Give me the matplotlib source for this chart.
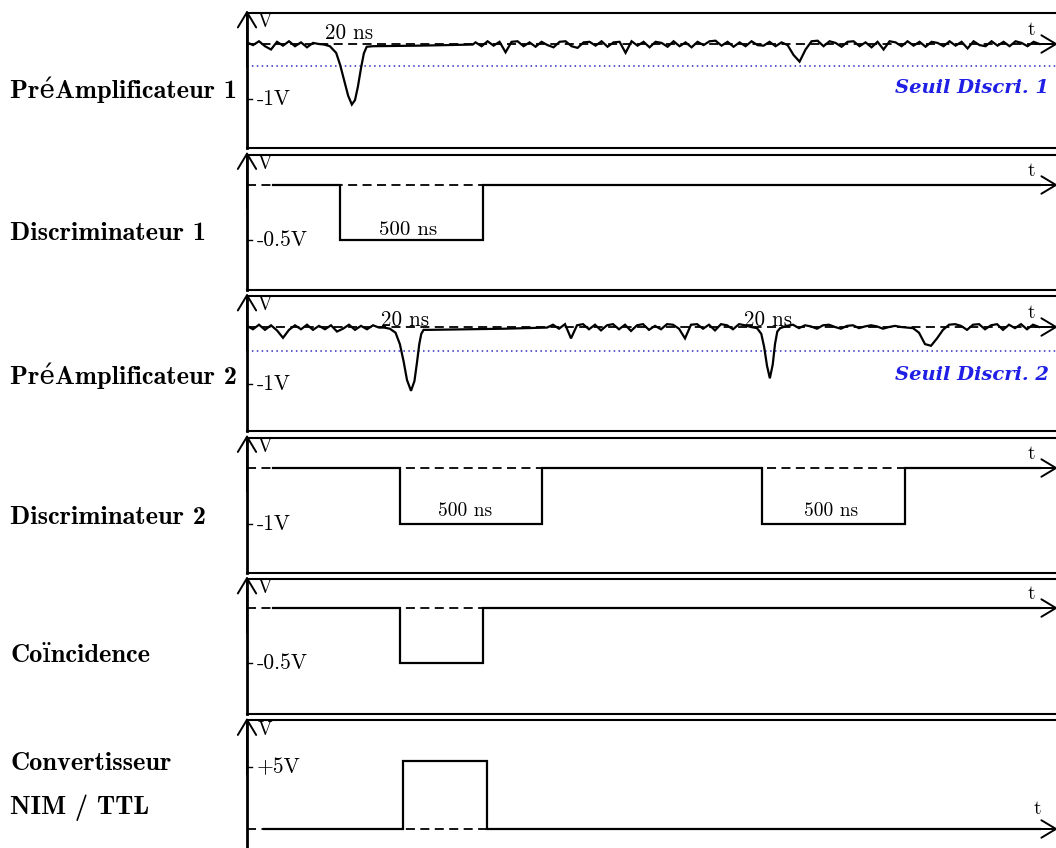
import numpy as np
import matplotlib
matplotlib.use("Agg")
import matplotlib.pyplot as plt

# time in ns, amplitude in V
STEP = 21.0  # sampling step of the noisy baselines

# --- PreAmplificateur 1 ---
pa1_noise_a_start = 0.0
pa1_noise_a = [0.03, -0.02, 0.05, -0.04, -0.1, 0.04, -0.03, 0.05, -0.04, 0.03, -0.06, 0.02, 0.0]
pa1_pulse_t = [270, 290, 312, 326, 340, 354, 367, 378, 388, 399, 409, 419, 440, 600, 790]
pa1_pulse_v = [-0.01, -0.04, -0.16, -0.38, -0.66, -0.94, -1.1, -1.02, -0.78, -0.44, -0.17,
               -0.05, -0.04, -0.03, -0.01]
pa1_noise_b_start = 800.0
pa1_noise_b = [0.03, -0.04, 0.05, -0.03, 0.04, -0.15, 0.04, 0.05, -0.04, 0.03,
               -0.05, 0.04, -0.02, -0.06, 0.04, 0.05, -0.04, -0.07, 0.03, 0.04,
               -0.03, 0.05, -0.05, 0.03, 0.04, -0.16, 0.05, -0.03, 0.04, -0.06,
               0.04, 0.02, -0.05, 0.05, -0.04, 0.03, -0.06, 0.04, -0.02, 0.05,
               0.06, -0.03, 0.04, -0.05, 0.03, -0.04, 0.05, -0.02, -0.03, 0.04,
               -0.04, 0.03, -0.02, -0.2, -0.32, -0.1, 0.05, 0.06, -0.04, 0.05,
               0.02, -0.05, 0.04, 0.05, -0.04, 0.03, -0.06, 0.04, -0.1, 0.05,
               0.03, -0.04, 0.05, -0.03, 0.04, -0.05, 0.04, 0.02, -0.04, 0.05,
               -0.03, 0.04, -0.08, 0.05, -0.02, -0.04, 0.05, -0.03, 0.04, -0.04,
               0.05, 0.02, -0.04, 0.04, 0.0]
pa1_threshold = -0.40

# --- Discriminateur 1 ---
disc1_t = [90, 325, 325, 826, 826, 2775]
disc1_v = [0, 0, -0.5, -0.5, 0, 0]

# --- PreAmplificateur 2 ---
pa2_noise_a_start = 0.0
pa2_noise_a = [0.02, -0.04, 0.04, -0.05, 0.03, -0.06, -0.19, -0.05, 0.03, -0.04, 0.04, -0.05,
               0.02, -0.04, 0.03, -0.08, -0.03, 0.04, -0.05, 0.02, -0.04, 0.03, -0.01]
pa2_pulse1_t = [480, 500, 520, 535, 548, 560, 574, 586, 595, 603, 610, 618, 640, 900, 1050]
pa2_pulse1_v = [-0.01, -0.03, -0.1, -0.3, -0.6, -0.93, -1.12, -0.95, -0.62, -0.3, -0.12,
                -0.05, -0.05, -0.03, -0.01]
pa2_noise_b_start = 1071.0
pa2_noise_b = [0.04, -0.03, 0.05, -0.2, 0.03, 0.05, -0.04, 0.04, -0.06, 0.03, 0.05, -0.04,
               0.04, -0.07, 0.03, 0.05, -0.05, 0.02, -0.04, 0.05, 0.04, -0.03, -0.2, 0.04,
               0.05, -0.03, 0.04, -0.06, 0.05, 0.03, -0.04, 0.05, 0.03, 0.0]
pa2_pulse2_t = [1785, 1800, 1810, 1820, 1830, 1840, 1848, 1856, 1866]
pa2_pulse2_v = [-0.02, -0.12, -0.35, -0.68, -0.9, -0.66, -0.3, -0.08, -0.02]
pa2_noise_c_start = 1890.0
pa2_noise_c = [0.02, 0.04, -0.02, 0.03, 0.01, -0.03, 0.03, 0.04, 0.0, -0.03,
               0.02, 0.03, -0.02, 0.01, 0.03, 0.01, -0.03, 0.0, 0.02, 0.0,
               -0.01, -0.02, -0.1, -0.3, -0.33, -0.2, -0.05, 0.04, 0.05, 0.02,
               -0.05, 0.04, 0.05, -0.04, 0.03, 0.05, -0.05, 0.04, -0.02, 0.05,
               -0.04, 0.04, 0.0]
pa2_threshold = -0.42

# --- Discriminateur 2 ---
disc2_t = [90, 535, 535, 1032, 1032, 1802, 1802, 2303, 2303, 2775]
disc2_v = [0, 0, -1, -1, 0, 0, -1, -1, 0, 0]

# --- Coincidence ---
coinc_t = [90, 535, 535, 826, 826, 2775]
coinc_v = [0, 0, -0.5, -0.5, 0, 0]

# --- Convertisseur NIM / TTL ---
conv_t = [60, 546, 546, 840, 840, 2775]
conv_v = [0, 0, 5.5, 5.5, 0, 0]

row_labels = ["PréAmplificateur 1", "Discriminateur 1", "PréAmplificateur 2",
              "Discriminateur 2", "Coïncidence", "Convertisseur", "NIM / TTL"]
row_label_y = [90, 234, 376, 518, 656, 763, 808]
tick_values = [-1, -0.5, -1, -1, -0.5, 5]
tick_texts = ["-1V", "-0.5V", "-1V", "-1V", "-0.5V", "+5V"]
y_limits = [(-1.891, 0.564), (-0.95, 0.277), (-1.825, 0.544),
            (-1.866, 0.545), (-0.964, 0.264), (-2.14, 8.75)]


def noisy(start, vals):
    return start + STEP * np.arange(len(vals)), np.asarray(vals, dtype=float)


def join(*parts):
    t = np.concatenate([np.asarray(p[0], dtype=float) for p in parts])
    v = np.concatenate([np.asarray(p[1], dtype=float) for p in parts])
    return t, v


pa1 = join(noisy(pa1_noise_a_start, pa1_noise_a), (pa1_pulse_t, pa1_pulse_v),
           noisy(pa1_noise_b_start, pa1_noise_b))
pa2 = join(noisy(pa2_noise_a_start, pa2_noise_a), (pa2_pulse1_t, pa2_pulse1_v),
           noisy(pa2_noise_b_start, pa2_noise_b), (pa2_pulse2_t, pa2_pulse2_v),
           noisy(pa2_noise_c_start, pa2_noise_c))
signals = [pa1, (disc1_t, disc1_v), pa2, (disc2_t, disc2_v),
           (coinc_t, coinc_v), (conv_t, conv_v)]

W, H = 1056, 848
fig = plt.figure(figsize=(W / 100, H / 100), dpi=100)
fig.patch.set_facecolor("white")

RM = "cmr10"
BF = ["cmb10", "DejaVu Serif"]
X0, X1 = 247, 1062          # panel left/right in pixels
T_MAX = (X1 - X0) * 3.5     # ns across a panel
PANEL_H = 135
tops = [13, 154.5, 296, 437.5, 579, 720.5]
arrow = "->,head_length=0.5,head_width=0.3"

for i in range(6):
    top = tops[i]
    ax = fig.add_axes([X0 / W, 1 - (top + PANEL_H) / H, (X1 - X0) / W, PANEL_H / H])
    ax.set_xlim(0, T_MAX)
    ax.set_ylim(*y_limits[i])
    ax.set_xticks([])
    ax.set_yticks([])
    for name, sp in ax.spines.items():
        sp.set_linewidth(1.5)
    ax.spines["left"].set_linewidth(2.0)

    # zero line and the two axis arrows
    ax.plot([0, 2810], [0, 0], color="black", lw=1.3, ls=(0, (5, 3)), zorder=2)
    ax.annotate("", xy=(2838, 0), xytext=(2760, 0),
                arrowprops=dict(arrowstyle=arrow, lw=1.4, color="black",
                                mutation_scale=21, shrinkA=0, shrinkB=0),
                annotation_clip=False)
    ax.annotate("", xy=(0, 1.02), xytext=(0, 0.6), xycoords="axes fraction",
                arrowprops=dict(arrowstyle=arrow, lw=1.4, color="black",
                                mutation_scale=22, shrinkA=0, shrinkB=0),
                annotation_clip=False)
    ax.text(0.0135, 0.93, "V", transform=ax.transAxes, family=RM, fontsize=14,
            ha="left", va="center")
    t_dy = 20 if i == 5 else 14
    t_x = (1037 - X0) * 3.5 if i == 5 else (1031 - X0) * 3.5
    ax.annotate("t", xy=(t_x, 0), xytext=(0, t_dy), textcoords="offset pixels",
                family=RM, fontsize=14, ha="center", va="center")

    # y tick with its value
    ax.plot([0, 18], [tick_values[i]] * 2, color="black", lw=1.0, zorder=3)
    ax.annotate(tick_texts[i], xy=(0, tick_values[i]), xytext=(10, 0),
                textcoords="offset pixels", family=RM, fontsize=15.5,
                ha="left", va="center")

    t, v = signals[i]
    ax.plot(t, v, color="black", lw=1.6, zorder=4, solid_joinstyle="miter")

    if i in (0, 2):
        thr = pa1_threshold if i == 0 else pa2_threshold
        ax.axhline(thr, color="#2b2bc4", lw=1.1, ls=(0, (1, 2.2)), zorder=1)
        ax.text((1049 - X0) * 3.5, thr - (0.4 if i == 0 else 0.42), "Seuil Discri. %d" % (i // 2 + 1),
                family="DejaVu Serif", weight="bold", style="italic", fontsize=14,
                color="#1f1fe6", ha="right", va="center")

for label, yc in zip(row_labels, row_label_y):
    fig.text(10 / W, 1 - yc / H, label, family=BF, fontsize=19, ha="left", va="center")

# pulse width annotations
fig.axes[0].text(357, 0.2, "20 ns", family=RM, fontsize=15.2, ha="center", va="center")
fig.axes[2].text(553, 0.12, "20 ns", family=RM, fontsize=15.2, ha="center", va="center")
fig.axes[2].text(1823, 0.12, "20 ns", family=RM, fontsize=15.2, ha="center", va="center")
fig.axes[1].text(563, -0.41, "500 ns", family=RM, fontsize=15, ha="center", va="center")
fig.axes[3].text(763, -0.77, "500 ns", family=RM, fontsize=14, ha="center", va="center")
fig.axes[3].text(2044, -0.77, "500 ns", family=RM, fontsize=14, ha="center", va="center")

fig.savefig("out.png", dpi=100)
